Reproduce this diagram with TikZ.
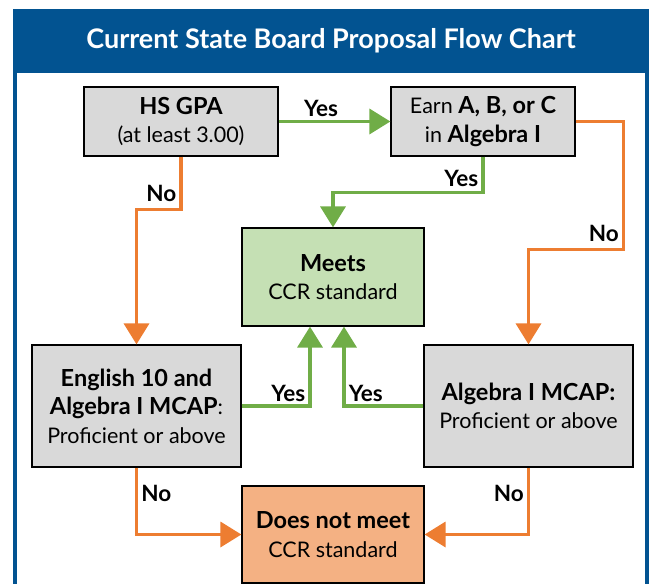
\documentclass[tikz,border=0pt]{standalone}
\usepackage{fontspec}
\setmainfont{Lato}
\usepackage{tikz}
\usetikzlibrary{arrows.meta}

\definecolor{hdblue}{RGB}{2,83,145}
\definecolor{yesgreen}{RGB}{112,173,71}
\definecolor{noorange}{RGB}{237,125,49}
\definecolor{boxgray}{RGB}{217,217,217}
\definecolor{meetsfill}{RGB}{197,224,180}
\definecolor{failfill}{RGB}{244,177,131}
\newcommand{\hb}[1]{{\fontsize{23.5}{28.5}\selectfont\bfseries #1}}

\begin{document}
\begin{tikzpicture}[x=1pt,y=-1pt,
  box/.style={draw=black,line width=1.2pt,fill=boxgray,align=center,inner sep=0pt,
    font=\fontsize{21.5}{28.5}\selectfont},
  yes/.style={draw=yesgreen,line width=3.5pt,-{Triangle[width=25pt,length=21pt]}},
  no/.style={draw=noorange,line width=3.5pt,-{Triangle[width=25pt,length=21pt]}},
  lbl/.style={font=\fontsize{22.5}{26}\selectfont\bfseries,inner sep=3pt}]
\useasboundingbox (0,0) rectangle (649,584);
\clip (0,0) rectangle (649,584);
% frame and title bar
\draw[hdblue,line width=4pt] (15,11) rectangle (647,700);
\fill[hdblue] (13,9) rectangle (649,73);
\node (title) at (331,41) [text=white,font=\fontsize{27}{30}\selectfont\bfseries] {Current State Board Proposal Flow Chart};

% boxes
\draw (181,121.5) node[box,minimum width=194,minimum height=69] (gpa) {\hb{HS GPA}\\(at least 3.00)};
\draw (483,121.5) node[box,minimum width=184,minimum height=69] (earn) {Earn \hb{A, B, or C}\\in \hb{Algebra I}};
\draw (333,277) node[box,fill=meetsfill,minimum width=182,minimum height=98] (meets) {\hb{Meets}\\CCR standard};
\draw (136.5,406) node[box,minimum width=209,minimum height=122] (eng) {\hb{English 10 and}\\\hb{Algebra I MCAP}:\\Proficient or above};
\draw (528.5,406) node[box,minimum width=209,minimum height=122] (alg) {\hb{Algebra I MCAP:}\\Proficient or above};
\draw (333,534.5) node[box,fill=failfill,minimum width=182,minimum height=97] (fail) {\hb{Does not meet}\\CCR standard};

% yes paths
\draw[yes] (gpa.east)--(earn.west) node[pos=.38,above,lbl]{Yes};
\draw[yes] (earn.south)--++(0,36) node[pos=.6,left,lbl]{Yes} -| (meets.north);
\draw[yes] (eng.east) -| ([xshift=-23pt]meets.south) node[pos=.5,anchor=south east,lbl]{Yes};
\draw[yes] (alg.west) -| ([xshift=11pt]meets.south) node[pos=.5,anchor=south west,lbl]{Yes};

% no paths
\draw[no] (gpa.south)--++(0,53) node[pos=.7,left,lbl]{No} -| (eng.north);
\draw[no] (earn.east)--++(48,0)--++(0,128) node[pos=.875,left,lbl]{No} -| (alg.north);
\draw[no] (eng.south) |- (fail.west) node[pos=.19,right,lbl]{No};
\draw[no] (alg.south) |- (fail.east) node[pos=.19,left,lbl]{No};
\end{tikzpicture}
\end{document}
